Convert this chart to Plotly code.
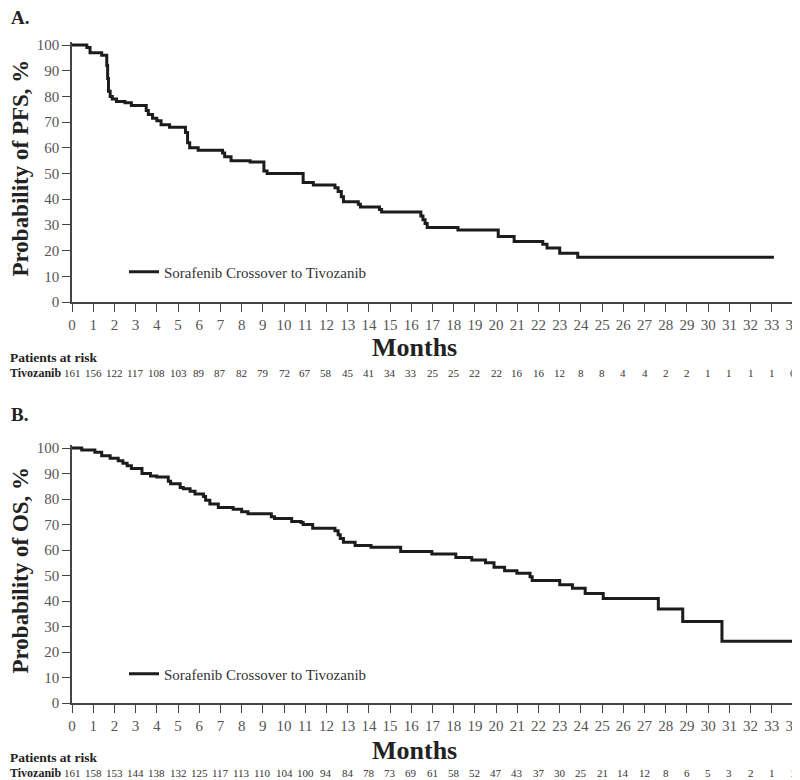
import plotly.graph_objects as go

# ---------------- data ----------------
months = list(range(0, 35))

pfs_time = [0, 0.7, 0.85, 1.4, 1.64, 1.68, 1.72, 1.8, 1.9, 2.1, 2.5, 2.8, 3.5, 3.6, 3.8, 4.0, 4.2, 4.6,
            5.35, 5.45, 5.55, 5.95, 7.1, 7.2, 7.5, 8.4, 9.05, 9.2, 10.9, 11.38, 12.4, 12.55, 12.7, 12.8,
            13.5, 13.6, 14.5, 14.6, 16.45, 16.55, 16.65, 16.75, 18.2, 20.1, 20.85, 22.2, 22.4, 23.0,
            23.85, 33.1]
pfs_surv = [100, 99, 97, 96, 92, 87, 82, 80, 79, 78, 77.5, 76.5, 74.5, 73, 71.5, 70.5, 69, 68,
            66, 62, 60, 59, 58, 56.5, 55, 54.5, 51, 50, 46.5, 45.5, 44.5, 43, 41, 39,
            38, 37, 36, 35, 33.5, 32, 30.5, 29, 28, 25.5, 23.5, 22.5, 21, 19,
            17.4, 17.4]

os_time = [0, 0.46, 1.08, 1.4, 1.8, 2.18, 2.4, 2.6, 2.8, 3.3, 3.7, 4.0, 4.54, 4.65, 5.1, 5.25, 5.57,
           5.8, 6.2, 6.3, 6.5, 6.9, 7.6, 8.0, 8.3, 9.4, 9.55, 10.36, 10.8, 10.9, 11.35, 12.4, 12.55,
           12.65, 12.8, 13.35, 14.1, 15.5, 16.97, 18.1, 18.85, 19.5, 19.9, 20.4, 20.98, 21.6, 21.7,
           23.0, 23.6, 24.2, 25.05, 27.65, 28.8, 30.65, 34]
os_surv = [100, 99.2, 98.3, 97, 96, 95, 94, 93, 92, 90, 89, 88.6, 87, 86, 84.5, 84, 83,
           82, 81, 79.5, 78, 76.7, 76, 75, 74.2, 73, 72.4, 71.2, 70.8, 70, 68.5, 67.5, 66,
           64.5, 63, 61.8, 61.1, 59.4, 58.4, 57.1, 56.1, 55, 53.2, 51.9, 50.9, 49.5, 48,
           46.4, 45, 42.9, 41, 36.9, 32, 24.2, 24.2]

pfs_at_risk = [161, 156, 122, 117, 108, 103, 89, 87, 82, 79, 72, 67, 58, 45, 41, 34, 33, 25, 25, 22,
               22, 16, 16, 12, 8, 8, 4, 4, 2, 2, 1, 1, 1, 1, 0]
os_at_risk = [161, 158, 153, 144, 138, 132, 125, 117, 113, 110, 104, 100, 94, 84, 78, 73, 69, 61, 58, 52,
              47, 43, 37, 30, 25, 21, 14, 12, 8, 6, 5, 3, 2, 1, 1]

series_name = "Sorafenib Crossover to Tivozanib"
panel_labels = ["A.", "B."]
y_titles = ["Probability of PFS, %", "Probability of OS, %"]

# ---------------- layout helpers ----------------
# The page body adds an 8px margin, so figure pixels = screen pixels - OFF.
OFF = 8
W, H = 800, 780
PLOT_LEFT, PLOT_RIGHT = 72, 793          # screen pixels of the x-axis ends
L = PLOT_LEFT - OFF
R = W - (PLOT_RIGHT - OFF)
PW = W - L - R


def py(sy):  # screen y -> paper y
    return (H - (sy - OFF)) / H


def px(sx):  # screen x -> paper x
    return ((sx - OFF) - L) / PW


SERIF = "Liberation Serif"
LINE_C = "#1c1c1c"
AX_C = "#444444"
TICK_C = "#555555"

fig = go.Figure()
fig.add_trace(go.Scatter(x=pfs_time, y=pfs_surv, mode="lines", line=dict(shape="hv", color=LINE_C, width=3),
                         name=series_name, xaxis="x", yaxis="y", legend="legend"))
fig.add_trace(go.Scatter(x=os_time, y=os_surv, mode="lines", line=dict(shape="hv", color=LINE_C, width=3),
                         name=series_name, xaxis="x2", yaxis="y2", legend="legend2"))

axis_common = dict(showline=True, linecolor=AX_C, linewidth=1.5, ticks="outside", ticklen=8, tickwidth=1.3,
                   tickcolor=AX_C, tickfont=dict(family=SERIF, size=15, color=TICK_C), showgrid=False,
                   zeroline=False, automargin=False, ticklabeloverflow="allow")

# panel geometry (screen pixels)
top_y100, top_y0 = 45, 302
bot_y100, bot_y0 = 448, 703
unit_top = (top_y0 - top_y100) / 100
unit_bot = (bot_y0 - bot_y100) / 100

fig.update_layout(
    width=W, height=H, margin=dict(l=L, r=R, t=0, b=0), plot_bgcolor="white", paper_bgcolor="white",
    showlegend=True,
    xaxis=dict(axis_common, range=[0, 34], tickvals=months, anchor="y", domain=[0, 1]),
    yaxis=dict(axis_common, range=[0, 101], tickvals=list(range(0, 101, 10)), anchor="x",
               domain=[py(top_y0), py(top_y100 - unit_top)]),
    xaxis2=dict(axis_common, range=[0, 34], tickvals=months, anchor="y2", domain=[0, 1]),
    yaxis2=dict(axis_common, range=[0, 101], tickvals=list(range(0, 101, 10)), anchor="x2",
                domain=[py(bot_y0), py(bot_y100 - unit_bot)]),
    legend=dict(x=px(124), y=py(272), xanchor="left", yanchor="middle", bgcolor="rgba(0,0,0,0)",
                font=dict(family=SERIF, size=15, color="#333333")),
    legend2=dict(x=px(124), y=py(674), xanchor="left", yanchor="middle", bgcolor="rgba(0,0,0,0)",
                 font=dict(family=SERIF, size=15, color="#333333")),
)

ann = []
panels = [
    (panel_labels[0], y_titles[0], top_y0, top_y100, pfs_at_risk, "x", 18, 347, 373),
    (panel_labels[1], y_titles[1], bot_y0, bot_y100, os_at_risk, "x2", 415, 750, 773),
]
for lab, ytit, y0, y100, risk, xref, label_y, months_y, risk_y in panels:
    ann.append(dict(text=f"<b>{lab}</b>", x=px(9), y=py(label_y), xref="paper", yref="paper",
                    xanchor="left", yanchor="middle", showarrow=False,
                    font=dict(family=SERIF, size=19, color="#222")))
    ann.append(dict(text=f"<b>{ytit}</b>", x=px(20), y=py((y0 + y100) / 2 - 5), xref="paper", yref="paper",
                    xanchor="center", yanchor="middle", textangle=-90, showarrow=False,
                    font=dict(family=SERIF, size=23, color="#222")))
    ann.append(dict(text="<b>Months</b>", x=px(414), y=py(months_y), xref="paper", yref="paper",
                    xanchor="center", yanchor="middle", showarrow=False,
                    font=dict(family=SERIF, size=26, color="#222")))
    ann.append(dict(text="<b>Patients at risk</b>", x=px(OFF), y=py(risk_y - 16), xref="paper", yref="paper",
                    xanchor="left", yanchor="middle", showarrow=False,
                    font=dict(family=SERIF, size=13.5, color="#222")))
    ann.append(dict(text="<b>Tivozanib</b>", x=px(OFF), y=py(risk_y), xref="paper", yref="paper",
                    xanchor="left", yanchor="middle", showarrow=False,
                    font=dict(family=SERIF, size=12, color="#222")))
    for m, n in zip(months, risk):
        ann.append(dict(text=str(n), x=m, y=py(risk_y), xref=xref, yref="paper",
                        xanchor="center", yanchor="middle", showarrow=False,
                        font=dict(family=SERIF, size=11, color="#333")))

fig.update_layout(annotations=ann)
fig.write_html("out.html")
